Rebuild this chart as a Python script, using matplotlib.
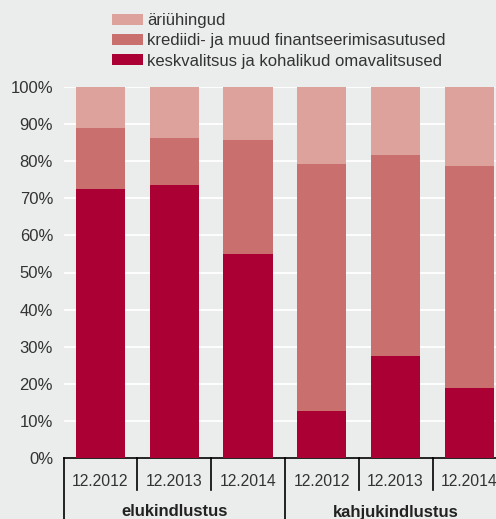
import matplotlib
matplotlib.use("Agg")
import matplotlib.pyplot as plt
import matplotlib.transforms as mtransforms

categories = ["12.2012", "12.2013", "12.2014", "12.2012", "12.2013", "12.2014"]
groups = ["elukindlustus", "kahjukindlustus"]
keskvalitsus = [72.6, 73.7, 54.9, 12.6, 27.5, 19.0]
krediidi = [16.4, 12.6, 30.7, 66.7, 54.3, 59.8]
ariuhingud = [11.0, 13.7, 14.4, 20.7, 18.2, 21.2]
series_names = ["keskvalitsus ja kohalikud omavalitsused",
                "krediidi- ja muud finantseerimisasutused",
                "äriühingud"]
colors = ["#AA0033", "#C9706E", "#DDA29B"]
bg = "#EBECEC"

plt.rcParams['font.family'] = ['Liberation Sans', 'DejaVu Sans']

fig = plt.figure(figsize=(4.96, 5.19), dpi=100, facecolor=bg)
ax = fig.add_axes([63.5/496, 61/519, 6*73.8/496, 371/519])
ax.set_facecolor(bg)

x = list(range(len(categories)))
w = 0.665
bottoms = [0]*6
handles = []
for vals, c, name in zip([keskvalitsus, krediidi, ariuhingud], colors, series_names):
    b = ax.bar(x, vals, w, bottom=bottoms, color=c, label=name, zorder=3)
    handles.append(b)
    bottoms = [bb + v for bb, v in zip(bottoms, vals)]

ax.set_xlim(-0.5, 5.5)
ax.set_ylim(0, 100)
ax.set_yticks(range(0, 101, 10))
ax.set_yticklabels([f"{v}%" for v in range(0, 101, 10)], fontsize=12, color="#333333")
ax.yaxis.grid(True, color="white", linewidth=1.3, zorder=0)
ax.tick_params(axis='y', length=0, pad=7.5)
ax.set_xticks([])
for s in ["top", "right", "left"]:
    ax.spines[s].set_visible(False)
ax.spines["bottom"].set_color("black")
ax.spines["bottom"].set_linewidth(1.2)

trans = mtransforms.blended_transform_factory(ax.transData, ax.transAxes)
ax_h = 371.0
for i in range(7):
    xb = i - 0.5
    if i in (0, 3, 6):
        y0 = -61 / ax_h - 0.01
    else:
        y0 = -32 / ax_h
    ax.plot([xb, xb], [0, y0], color="black", linewidth=1.2, transform=trans, clip_on=False)

for i, c in enumerate(categories):
    ax.text(i, -23 / ax_h, c, transform=trans, ha="center", va="center",
            fontsize=11.3, color="#333333")
for g, xc in zip(groups, [1, 4]):
    ax.text(xc, -54 / ax_h, g, transform=trans, ha="center", va="center",
            fontsize=12, fontweight="bold", color="#222222")

leg = fig.legend(handles[::-1], series_names[::-1], loc="upper left",
                 bbox_to_anchor=(112/496, 1 - 13/519), frameon=False,
                 fontsize=12, handlelength=1.85, handleheight=0.63,
                 handletextpad=0.25, labelspacing=0.32, borderaxespad=0, borderpad=0)
for t in leg.get_texts():
    t.set_color("#333333")

fig.savefig("out.png", dpi=100, facecolor=bg)
